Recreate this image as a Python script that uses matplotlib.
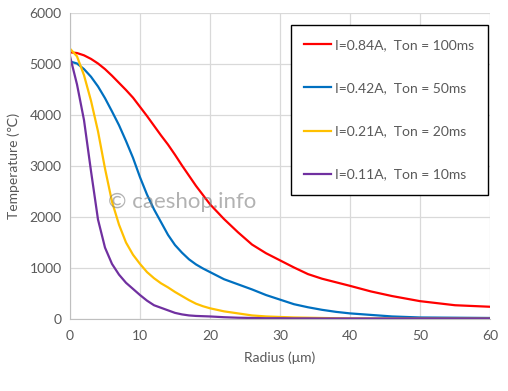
import matplotlib.pyplot as plt

# Data
radius = [0, 1, 2, 3, 4, 5, 6, 7, 8, 9, 10, 11, 12, 13, 14, 15, 16, 17, 18, 19, 20,
          22, 24, 26, 28, 30, 32, 34, 36, 38, 40, 43, 46, 50, 55, 60]
t_084 = [5230, 5215, 5170, 5100, 5010, 4900, 4770, 4630, 4490, 4340, 4160, 3980, 3790,
         3600, 3420, 3220, 3010, 2810, 2610, 2430, 2250, 1960, 1700, 1460, 1290, 1150,
         1010, 880, 790, 720, 650, 540, 450, 350, 270, 240]
t_042 = [5050, 5010, 4900, 4750, 4560, 4330, 4070, 3800, 3490, 3160, 2780, 2440, 2150,
         1900, 1650, 1450, 1300, 1170, 1070, 990, 920, 780, 680, 580, 470, 380,
         290, 230, 180, 140, 110, 80, 50, 30, 25, 20]
t_021 = [5300, 5150, 4780, 4280, 3680, 2950, 2300, 1850, 1500, 1260, 1080, 920, 800,
         700, 620, 530, 450, 370, 300, 250, 210, 150, 110, 70, 50, 40,
         30, 25, 20, 15, 12, 10, 10, 8, 8, 8]
t_011 = [5150, 4600, 3900, 2900, 1950, 1400, 1080, 870, 710, 590, 470, 360, 270,
         220, 170, 120, 90, 70, 60, 55, 50, 35, 25, 20, 15, 15,
         12, 12, 10, 10, 10, 10, 10, 10, 10, 10]

labels = ["I=0.84A,  Ton = 100ms", "I=0.42A,  Ton = 50ms",
          "I=0.21A,  Ton = 20ms", "I=0.11A,  Ton = 10ms"]
colors = ["#FF0000", "#0070C0", "#FFC000", "#7030A0"]

plt.rcParams['font.family'] = ['Lato', 'DejaVu Sans']

fig = plt.figure(figsize=(5.08, 3.91), dpi=100)
ax = fig.add_axes([70 / 508, 72 / 391, 420 / 508, 306 / 391])

for ys, lab, c in zip([t_084, t_042, t_021, t_011], labels, colors):
    ax.plot(radius, ys, color=c, lw=1.6, label=lab)

ax.set_xlim(0, 60)
ax.set_ylim(0, 6000)
ax.set_xticks(range(0, 61, 10))
ax.set_yticks(range(0, 6001, 1000))
ax.grid(True, color='#D9D9D9', lw=0.9)
ax.set_axisbelow(True)
for s in ['top', 'right']:
    ax.spines[s].set_visible(False)
for s in ['left', 'bottom']:
    ax.spines[s].set_color('#BFBFBF')
ax.tick_params(length=0, labelsize=10, labelcolor='#595959', pad=8)
ax.tick_params(axis='y', pad=6)
ax.set_xlabel('Radius (μm)', fontsize=10, color='#595959', labelpad=7)
ax.set_ylabel('Temperature (℃)', fontsize=10, color='#595959', labelpad=7)

leg = ax.legend(loc='upper right', bbox_to_anchor=(488 / 508, 366 / 391),
                bbox_transform=fig.transFigure, borderaxespad=0,
                fontsize=10, labelspacing=2.25, handlelength=1.9,
                handletextpad=0.3, borderpad=1.0, fancybox=False,
                framealpha=1, edgecolor='black')
leg.get_frame().set_linewidth(1.0)
for t in leg.get_texts():
    t.set_color('#595959')

ax.text(182 / 508, 189 / 391, '© caeshop.info', transform=fig.transFigure,
        ha='center', va='center', fontsize=16, color='#808080', alpha=0.6, zorder=10)

fig.savefig('out.png', dpi=100)
